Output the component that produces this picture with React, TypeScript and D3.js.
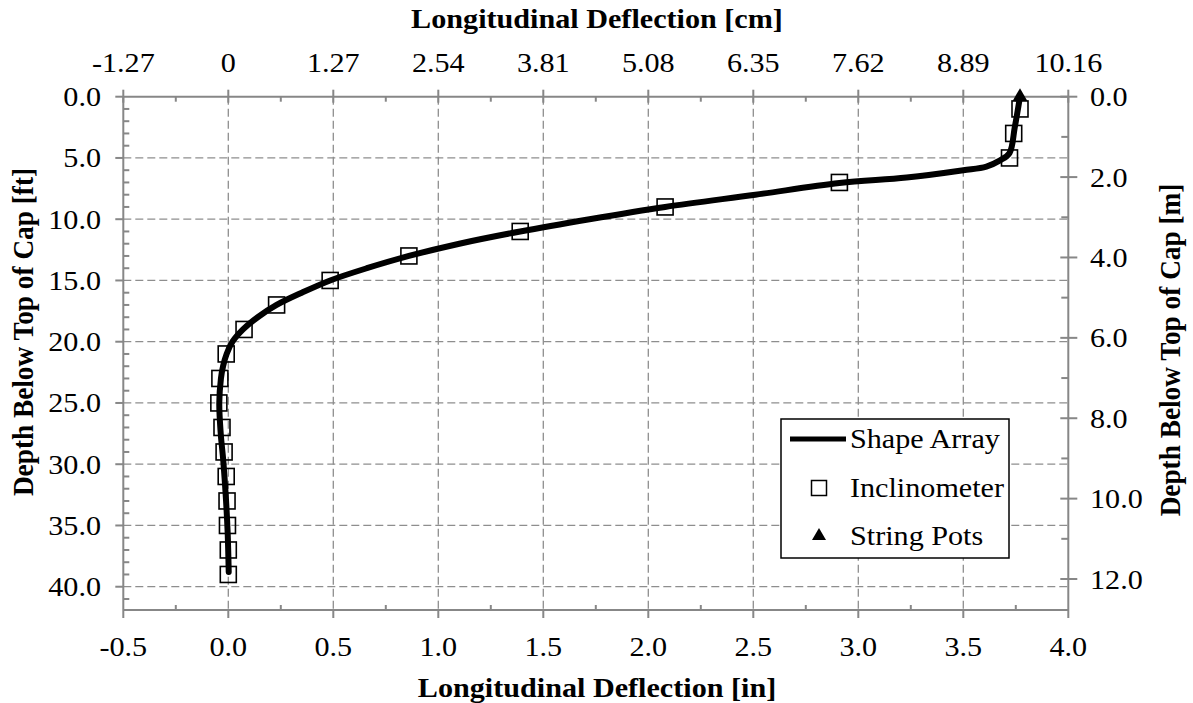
import React from "react";
import * as d3 from "d3";

// Shape array profile: depth below top of cap [ft] and deflection [in]
const shapeDepthFt = [0, 2.5, 4.6, 5.2, 5.7, 6.0, 6.6, 7.05, 8, 9, 10, 11, 12, 13, 14, 15, 16, 17, 18, 19, 20, 21, 22, 23, 25, 27.5, 29.7, 32.9, 35.6, 38.8];
const shapeDeflIn = [3.77, 3.745, 3.72, 3.675, 3.61, 3.5, 3.23, 2.91, 2.51, 2.08, 1.72, 1.39, 1.1, 0.86, 0.66, 0.485, 0.35, 0.23, 0.14, 0.07, 0.02, -0.008, -0.025, -0.035, -0.043, -0.036, -0.024, -0.011, -0.003, 0.002];

// Inclinometer readings
const incDepthFt = [1, 3, 5, 7, 9, 11, 13, 15, 17, 19, 21, 23, 25, 27, 29, 31, 33, 35, 37, 39];
const incDeflIn = [3.77, 3.74, 3.72, 2.91, 2.08, 1.39, 0.86, 0.485, 0.23, 0.075, -0.01, -0.04, -0.045, -0.03, -0.02, -0.01, -0.006, -0.004, 0.0, 0.0];

// String potentiometer readings
const potDepthFt = [0];
const potDeflIn = [3.77];

// Axis ticks
const inTicks = [-0.5, 0, 0.5, 1.0, 1.5, 2.0, 2.5, 3.0, 3.5, 4.0];
const cmTickLabels = ["-1.27", "0", "1.27", "2.54", "3.81", "5.08", "6.35", "7.62", "8.89", "10.16"];
const ftTicks = [0, 5, 10, 15, 20, 25, 30, 35, 40];
const mTicks = [0, 2, 4, 6, 8, 10, 12];

const W = 1193;
const H = 703;
const LEFT = 123.3;
const RIGHT = 1068.3;
const TOP = 96.7;
const BOTTOM = 610;
const FT_MAX = 41.9;
const FT_PER_M = 3.28084;

const FONT = "'Liberation Serif', 'Times New Roman', serif";
const FS = 27.3;
const SX = 1.105;
const AXIS = "#878787";
const GRID = "#8e8e8e";

// one decimal, plain hyphen for negatives
const fmt1 = (v: number) => d3.format(".1f")(v).replace("\u2212", "-");

function T({ x, y, anchor = "middle", bold = false, rotate = 0, size = FS, children }: any) {
  const tr = `translate(${x},${y}) scale(${SX},1)` + (rotate ? ` rotate(${rotate})` : "");
  return (
    <text
      transform={tr}
      textAnchor={anchor}
      fontFamily={FONT}
      fontSize={size}
      fontWeight={bold ? "bold" : "normal"}
      fill="#000"
    >
      {children}
    </text>
  );
}

export default function App() {
  const x = d3.scaleLinear().domain([-0.5, 4.0]).range([LEFT, RIGHT]);
  const xCm = d3.scaleLinear().domain([-0.5 * 2.54, 4.0 * 2.54]).range([LEFT, RIGHT]);
  const y = d3.scaleLinear().domain([0, FT_MAX]).range([TOP, BOTTOM]);
  const yM = d3.scaleLinear().domain([0, FT_MAX / FT_PER_M]).range([TOP, BOTTOM]);

  const shapePts: [number, number][] = shapeDepthFt.map((d, i) => [shapeDeflIn[i], d]);
  const line = d3
    .line<[number, number]>()
    .x((p) => x(p[0]))
    .y((p) => y(p[1]))
    .curve(d3.curveCatmullRom.alpha(0.5));

  const xMinor = d3.range(-0.25, 4.0, 0.5);
  const yMinor = d3.range(1, FT_MAX, 1).filter((v) => v % 5 !== 0);
  const cmMinor = d3.range(0, 9).map((i) => (-1.27 + 0.635) + i * 1.27);
  const mMinor = d3.range(1, 13, 2);

  const sq = 16;
  const tri = d3.symbol().type(d3.symbolTriangle).size(95)();
  const triLeg = d3.symbol().type(d3.symbolTriangle).size(85)();

  return (
    <svg width={W} height={H} style={{ position: "absolute", left: 0, top: 0, background: "#fff" }}>
      {/* grid */}
      <g stroke={GRID} strokeWidth={1.3} strokeDasharray="8,4" fill="none">
        {inTicks.slice(1, -1).map((v) => (
          <line key={"gx" + v} x1={x(v)} x2={x(v)} y1={TOP} y2={BOTTOM} />
        ))}
        {ftTicks.slice(1).map((v) => (
          <line key={"gy" + v} x1={LEFT} x2={RIGHT} y1={y(v)} y2={y(v)} />
        ))}
      </g>

      {/* axes frame */}
      <g stroke={AXIS} strokeWidth={2} fill="none">
        <line x1={LEFT} x2={RIGHT} y1={BOTTOM} y2={BOTTOM} />
        <line x1={LEFT} x2={RIGHT} y1={TOP} y2={TOP} />
        <line x1={LEFT} x2={LEFT} y1={TOP} y2={BOTTOM} />
        <line x1={RIGHT} x2={RIGHT} y1={TOP} y2={BOTTOM} />
        {/* bottom: major outside, minor inside */}
        {inTicks.map((v) => (
          <line key={"bt" + v} x1={x(v)} x2={x(v)} y1={BOTTOM} y2={BOTTOM + 8} />
        ))}
        {xMinor.map((v) => (
          <line key={"bm" + v} x1={x(v)} x2={x(v)} y1={BOTTOM} y2={BOTTOM - 5} />
        ))}
        {/* top: major cross, minor inside */}
        {inTicks.map((v) => (
          <line key={"tt" + v} x1={x(v)} x2={x(v)} y1={TOP - 7} y2={TOP + 6} />
        ))}
        {cmMinor.map((v) => (
          <line key={"tm" + v} x1={xCm(v)} x2={xCm(v)} y1={TOP} y2={TOP + 5} />
        ))}
        {/* left: major outside, minor inside */}
        {ftTicks.map((v) => (
          <line key={"lt" + v} x1={LEFT - 8} x2={LEFT} y1={y(v)} y2={y(v)} />
        ))}
        {yMinor.map((v) => (
          <line key={"lm" + v} x1={LEFT} x2={LEFT + 6} y1={y(v)} y2={y(v)} />
        ))}
        {/* right: major cross, minor inside */}
        {mTicks.map((v) => (
          <line key={"rt" + v} x1={RIGHT - 8} x2={RIGHT + 9} y1={yM(v)} y2={yM(v)} />
        ))}
        {mMinor.map((v) => (
          <line key={"rm" + v} x1={RIGHT - 7} x2={RIGHT} y1={yM(v)} y2={yM(v)} />
        ))}
      </g>

      {/* tick labels */}
      {inTicks.map((v) => (
        <T key={"bl" + v} x={x(v)} y={656}>{fmt1(v)}</T>
      ))}
      {cmTickLabels.map((s, i) => (
        <T key={"cl" + s} x={x(inTicks[i])} y={72}>{s}</T>
      ))}
      {ftTicks.map((v) => (
        <T key={"fl" + v} x={101} y={y(v) + 9.5} anchor="end">{fmt1(v)}</T>
      ))}
      {mTicks.map((v) => (
        <T key={"ml" + v} x={1090} y={yM(v) + 9.5} anchor="start">{fmt1(v)}</T>
      ))}

      {/* axis titles */}
      <T x={597} y={28} bold>Longitudinal Deflection [cm]</T>
      <T x={597} y={697} bold>Longitudinal Deflection [in]</T>
      <T x={33} y={332} bold rotate={-90}>Depth Below Top of Cap [ft]</T>
      <T x={1180} y={350} bold rotate={-90}>Depth Below Top of Cap [m]</T>

      {/* inclinometer squares */}
      <g fill="none" stroke="#000" strokeWidth={1.6}>
        {incDepthFt.map((d, i) => (
          <rect key={"sq" + d} x={x(incDeflIn[i]) - sq / 2} y={y(d) - sq / 2} width={sq} height={sq} />
        ))}
      </g>

      {/* shape array */}
      <path d={line(shapePts) || ""} fill="none" stroke="#000" strokeWidth={6} strokeLinecap="round" strokeLinejoin="round" />

      {/* string pots */}
      {potDepthFt.map((d, i) => (
        <path key={"sp" + d} d={tri || ""} transform={`translate(${x(potDeflIn[i])},${y(d)})`} fill="#000" />
      ))}

      {/* legend */}
      <rect x={781} y={419} width={228} height={139} fill="#fff" stroke="#000" strokeWidth={1.5} />
      <line x1={790} x2={846} y1={439} y2={439} stroke="#000" strokeWidth={5} />
      <rect x={819 - 7.5} y={488 - 7.5} width={15} height={15} fill="none" stroke="#000" strokeWidth={1.5} />
      <path d={triLeg || ""} transform="translate(819,536)" fill="#000" />
      <T x={850} y={448} anchor="start">Shape Array</T>
      <T x={850} y={497} anchor="start">Inclinometer</T>
      <T x={850} y={545} anchor="start">String Pots</T>
    </svg>
  );
}
